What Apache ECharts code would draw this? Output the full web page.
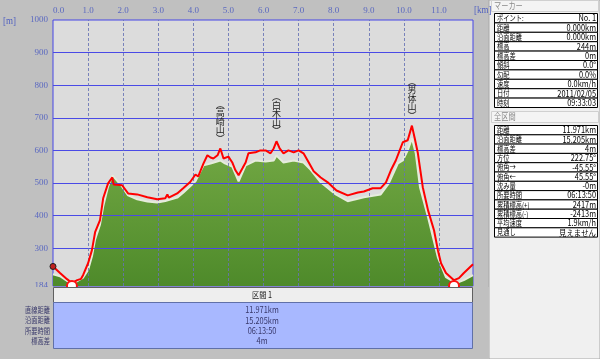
<!DOCTYPE html>
<html><head><meta charset="utf-8">
<script src="https://cdn.jsdelivr.net/npm/echarts@6/dist/echarts.min.js"></script>
<style>html,body{margin:0;padding:0;background:#c0c0c0}#c{width:600px;height:359px}</style>
</head><body><div id="c"></div>
<script>
// ---- data ----
const trackProfile = [[0,244],[0.2,224],[0.4,205],[0.54,193],[0.69,202],[0.8,206],[0.86,218],[1.0,254],[1.11,294],[1.2,349],[1.34,386],[1.43,453],[1.57,499],[1.69,517],[1.73,495],[1.77,499],[1.97,493],[2.14,468],[2.4,465],[2.69,456],[2.97,450],[3.2,453],[3.26,465],[3.3,455],[3.34,458],[3.54,468],[3.71,484],[3.91,503],[4.06,526],[4.14,520],[4.29,560],[4.4,585],[4.49,578],[4.57,575],[4.69,585],[4.77,606],[4.86,575],[5.0,581],[5.11,563],[5.2,539],[5.29,524],[5.4,545],[5.49,563],[5.57,591],[5.77,594],[5.91,600],[6.06,600],[6.2,591],[6.29,606],[6.37,628],[6.46,606],[6.57,591],[6.71,600],[6.86,594],[7.0,600],[7.14,591],[7.29,563],[7.43,536],[7.63,517],[7.83,502],[8.08,477],[8.4,462],[8.69,471],[8.86,474],[9.11,484],[9.34,484],[9.49,502],[9.63,539],[9.77,569],[9.86,594],[9.97,625],[10.11,631],[10.23,676],[10.31,637],[10.4,591],[10.54,487],[10.69,416],[10.86,355],[10.97,294],[11.06,254],[11.2,224],[11.43,202],[11.57,208],[11.71,224],[11.971,251]];
const groundProfile = [[0,220],[0.2,214],[0.54,190],[0.69,199],[0.86,210],[1.0,233],[1.11,275],[1.2,327],[1.34,373],[1.43,428],[1.57,489],[1.69,523],[1.77,514],[1.97,489],[2.14,462],[2.4,450],[2.69,443],[2.97,440],[3.2,445],[3.54,455],[3.71,470],[3.91,490],[4.06,505],[4.29,554],[4.49,560],[4.77,569],[4.9,560],[5.11,550],[5.29,505],[5.49,554],[5.77,569],[6.06,566],[6.29,569],[6.37,584],[6.57,563],[6.86,569],[7.14,563],[7.34,541],[7.63,502],[8.06,465],[8.4,444],[8.86,456],[9.34,465],[9.57,499],[9.83,560],[9.97,569],[10.11,600],[10.23,637],[10.34,591],[10.46,487],[10.69,395],[10.97,272],[11.2,211],[11.49,193],[11.71,202],[11.971,217]];
const xMax = 11.971;
const xGridKm = [1,2,3,4,5,6,7,8,9,10,11];
const yLabels = [184,300,400,500,600,700,800,900,1000];
const yGrid = [300,400,500,600,700,800,900];
const peaks = [{name:'高崎山',km:4.77,elev:606},{name:'白木山',km:6.37,elev:628},{name:'男体山',km:10.23,elev:676}];
const lowMarks = [[0.54,184],[11.43,184]];
const startMark = [0,244];
const markerTitle = 'マーカー';
const markerRows = [['ポイント:','No. 1'],['距離','0.000km'],['沿面距離','0.000km'],['標高','244m'],['標高差','0m'],['傾斜','0.0°'],['勾配','0.0%'],['速度','0.0km/h'],['日付','2011/02/05'],['時刻','09:33:03']];
const totalTitle = '全区間';
const totalRows = [['距離','11.971km'],['沿面距離','15.205km'],['標高差','4m'],['方位','222.75°'],['俯角→','-45.55°'],['俯角←','45.55°'],['沈み量','-0m'],['所要時間','06:13:50'],['累積標高(+)','2417m'],['累積標高(-)','-2413m'],['平均速度','1.9km/h'],['見通し','見えません']];
const sectionTitle = '区間 1';
const sectionLabels = ['直線距離','沿面距離','所要時間','標高差'];
const sectionValues = ['11.971km','15.205km','06:13:50','4m'];

// ---- chart ----
const JP = '"Noto Sans CJK JP"';
const chart = echarts.init(document.getElementById('c'));
function T(text, x, y, align, o) {
  o = o || {};
  return {type:'text', x:x, y:y, scaleX:o.sx || 0.8, z:40, silent:true,
    style:{text:text, fill:o.fill || '#000', font:(o.size||8)+'px '+(o.family||JP), align:align, verticalAlign:'middle'}};
}
const g = [];
// right panel
g.push({type:'rect', z:30, shape:{x:489,y:0,width:111,height:359}, style:{fill:'#f0f0f0', stroke:'#a8a8a8', lineWidth:1}});
g.push({type:'rect', z:31, shape:{x:491.5,y:0.5,width:107,height:11}, style:{fill:'#f4f4f4', stroke:'#d0d0d0', lineWidth:1}});
g.push(T(markerTitle, 494, 6, 'left', {fill:'#8a8a8a', size:9, sx:0.8}));
const rh1 = 9.4;
markerRows.forEach((r,i) => {
  const y = 13 + i*rh1;
  g.push({type:'rect', z:32, shape:{x:494.5,y:y+0.5,width:103,height:rh1}, style:{fill:'#fff', stroke:'#000', lineWidth:1}});
  g.push(T(r[0], 497, y+rh1/2+0.5, 'left', {sx:0.78}));
  g.push(T(r[1], 596, y+rh1/2+0.5, 'right', {size:8.5, sx:0.87}));
});
g.push({type:'rect', z:31, shape:{x:491.5,y:111.5,width:107,height:11}, style:{fill:'#f4f4f4', stroke:'#d0d0d0', lineWidth:1}});
g.push(T(totalTitle, 494, 117, 'left', {fill:'#8a8a8a', size:9, sx:0.8}));
const rh2 = 9.3;
totalRows.forEach((r,i) => {
  const y = 125 + i*rh2;
  g.push({type:'rect', z:32, shape:{x:494.5,y:y+0.5,width:103,height:rh2}, style:{fill:'#fff', stroke:'#000', lineWidth:1}});
  g.push(T(r[0], 497, y+rh2/2+0.5, 'left', {sx:0.78}));
  g.push(T(r[1], 596, y+rh2/2+0.5, 'right', {size:8.5, sx:0.87}));
});
// bottom table
g.push({type:'rect', z:30, shape:{x:0,y:287,width:489,height:72}, style:{fill:'#c0c0c0'}});
g.push({type:'rect', z:31, shape:{x:53.5,y:287.5,width:419,height:15}, style:{fill:'#eeeeee', stroke:'#606060', lineWidth:1}});
g.push(T(sectionTitle, 262, 295, 'center', {fill:'#222', size:8.5, sx:0.85}));
g.push({type:'rect', z:31, shape:{x:53.5,y:302.5,width:419,height:46}, style:{fill:'#a8b8ff', stroke:'#6070a8', lineWidth:1}});
sectionLabels.forEach((s,i) => {
  g.push(T(s, 50, 310 + i*10.4, 'right', {fill:'#38386a', sx:0.78}));
  g.push(T(sectionValues[i], 262, 310 + i*10.4, 'center', {fill:'#38386a', size:8.5, sx:0.87}));
});
// axis unit labels
g.push(T('[m]', 3, 21, 'left', {fill:'#5060c0', family:'"Liberation Serif"', size:10, sx:0.9}));
g.push(T('[km]', 474, 10, 'left', {fill:'#5060c0', family:'"Liberation Serif"', size:10, sx:0.9}));

const axisFont = {color:'#5a68c0', fontSize:9, fontFamily:'"Liberation Serif"'};
chart.setOption({
  animation:false,
  backgroundColor:'#c0c0c0',
  grid:{left:53, right:127, top:20, bottom:73, show:true, backgroundColor:'#dcdcdc', borderColor:'#4646e6', borderWidth:1},
  xAxis:{type:'value', position:'top', min:0, max:xMax, interval:1,
    axisLine:{show:false}, axisTick:{show:false}, splitLine:{show:false},
    axisLabel:Object.assign({margin:5, showMaxLabel:false, alignMinLabel:'left', formatter:v=>v.toFixed(1)}, axisFont)},
  yAxis:{type:'value', min:184, max:1000,
    axisLine:{show:false}, axisTick:{show:false}, splitLine:{show:false},
    axisLabel:Object.assign({margin:5, customValues:yLabels, formatter:v=>String(v)}, axisFont)},
  graphic:{elements:g},
  series:[
    {type:'line', name:'ground', data:groundProfile, symbol:'none', z:2,
      lineStyle:{color:'#e6ecdc', width:2},
      areaStyle:{opacity:1, color:new echarts.graphic.LinearGradient(0,0,0,1,[{offset:0,color:'#74a945'},{offset:1,color:'#4e8a2a'}])},
      markLine:{silent:true, symbol:'none', z:3, label:{show:false},
        data: yGrid.map(v=>({yAxis:v, lineStyle:{color:'#4a4ae6', width:1, type:'solid'}}))
          .concat(xGridKm.map(v=>({xAxis:v, lineStyle:{color:'#6672b4', width:1, type:[3,2], opacity:0.85}})))}
    },
    {type:'line', name:'track', data:trackProfile, symbol:'none', z:10,
      lineStyle:{color:'#ff0000', width:2},
      markPoint:{silent:true, z:12, data:
        peaks.map(p=>({coord:[p.km,p.elev], symbol:'circle', symbolSize:0,
          label:{show:true, position:'top', distance:6, color:'#222', fontSize:9, lineHeight:8.5, fontFamily:JP,
            formatter:'︵\n'+p.name.split('').join('\n')+'\n︶'}}))
        .concat([{coord:startMark, symbol:'circle', symbolSize:6, itemStyle:{color:'#c02020', borderColor:'#202020', borderWidth:1}, label:{show:false}}])
        .concat(lowMarks.map(c=>({coord:c, symbol:'circle', symbolSize:10, itemStyle:{color:'#ffffff', borderColor:'#ff1010', borderWidth:2}, label:{show:false}})))
      }
    }
  ]
});
</script></body></html>
